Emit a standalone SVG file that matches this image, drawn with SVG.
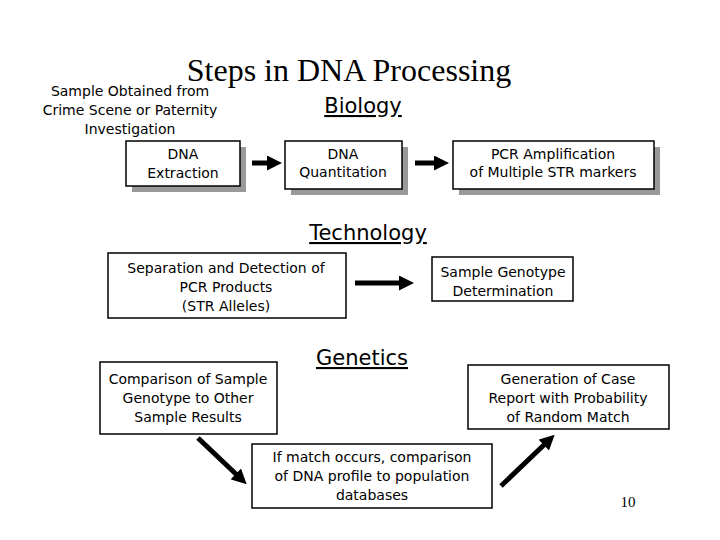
<svg xmlns="http://www.w3.org/2000/svg" width="720" height="540" viewBox="0 0 720 540">
<style>
text{font-family:"DejaVu Sans",sans-serif;font-size:14px;fill:#000;text-anchor:middle}
.b{fill:#fff;stroke:#000;stroke-width:1.5}
.s{fill:#999}
.h{font-size:21px;text-decoration:underline}
.l{stroke:#000;stroke-width:5;fill:none}
</style>
<defs><marker id="a" viewBox="0 0 10 10" refX="2" refY="5" markerWidth="3" markerHeight="3" orient="auto"><path d="M0,0L10,5L0,10z" fill="#000"/></marker></defs>
<rect width="720" height="540" fill="#fff"/>
<text x="349" y="81" style="font-family:'Liberation Serif',serif;font-size:32px">Steps in DNA Processing</text>
<text x="130" y="96">Sample Obtained from</text>
<text x="130" y="115">Crime Scene or Paternity</text>
<text x="130" y="134">Investigation</text>
<text x="363" y="113" class="h">Biology</text>
<text x="368" y="240" class="h">Technology</text>
<text x="362" y="365" class="h">Genetics</text>
<g id="n1"><rect class="s" x="132" y="147" width="114" height="45"/><rect class="b" x="126" y="141" width="114" height="45"/><text x="183" y="159">DNA</text><text x="183" y="178">Extraction</text></g>
<g id="n2"><rect class="s" x="291" y="147" width="117" height="48"/><rect class="b" x="285" y="141" width="117" height="48"/><text x="343" y="159">DNA</text><text x="343" y="177">Quantitation</text></g>
<g id="n3"><rect class="s" x="459" y="147" width="201" height="48"/><rect class="b" x="453" y="141" width="201" height="48"/><text x="553" y="159">PCR Amplification</text><text x="553" y="177">of Multiple STR markers</text></g>
<g id="n4"><rect class="b" x="108" y="253" width="238" height="65"/><text x="226" y="273">Separation and Detection of</text><text x="226" y="292">PCR Products</text><text x="226" y="311">(STR Alleles)</text></g>
<g id="n5"><rect class="b" x="432" y="257" width="141" height="44"/><text x="503" y="277">Sample Genotype</text><text x="503" y="296">Determination</text></g>
<g id="n6"><rect class="b" x="100" y="362" width="177" height="72"/><text x="188" y="384">Comparison of Sample</text><text x="188" y="403">Genotype to Other</text><text x="188" y="422">Sample Results</text></g>
<g id="n7"><rect class="b" x="468" y="365" width="201" height="64"/><text x="568" y="384">Generation of Case</text><text x="568" y="403">Report with Probability</text><text x="568" y="422">of Random Match</text></g>
<g id="n8"><rect class="b" x="252" y="444" width="240" height="64"/><text x="372" y="462">If match occurs, comparison</text><text x="372" y="481">of DNA profile to population</text><text x="372" y="500">databases</text></g>
<g id="c">
<line class="l" x1="252" y1="163" x2="270" y2="163" marker-end="url(#a)"/>
<line class="l" x1="415" y1="163" x2="437" y2="163" marker-end="url(#a)"/>
<line class="l" x1="355" y1="283" x2="402" y2="283" marker-end="url(#a)"/>
<line class="l" x1="198" y1="438" x2="238" y2="476" marker-end="url(#a)"/>
<line class="l" x1="501" y1="486" x2="546" y2="443" marker-end="url(#a)"/>
</g>
<text x="628" y="507" style="font-family:'Liberation Serif',serif;font-size:15px">10</text>
</svg>
